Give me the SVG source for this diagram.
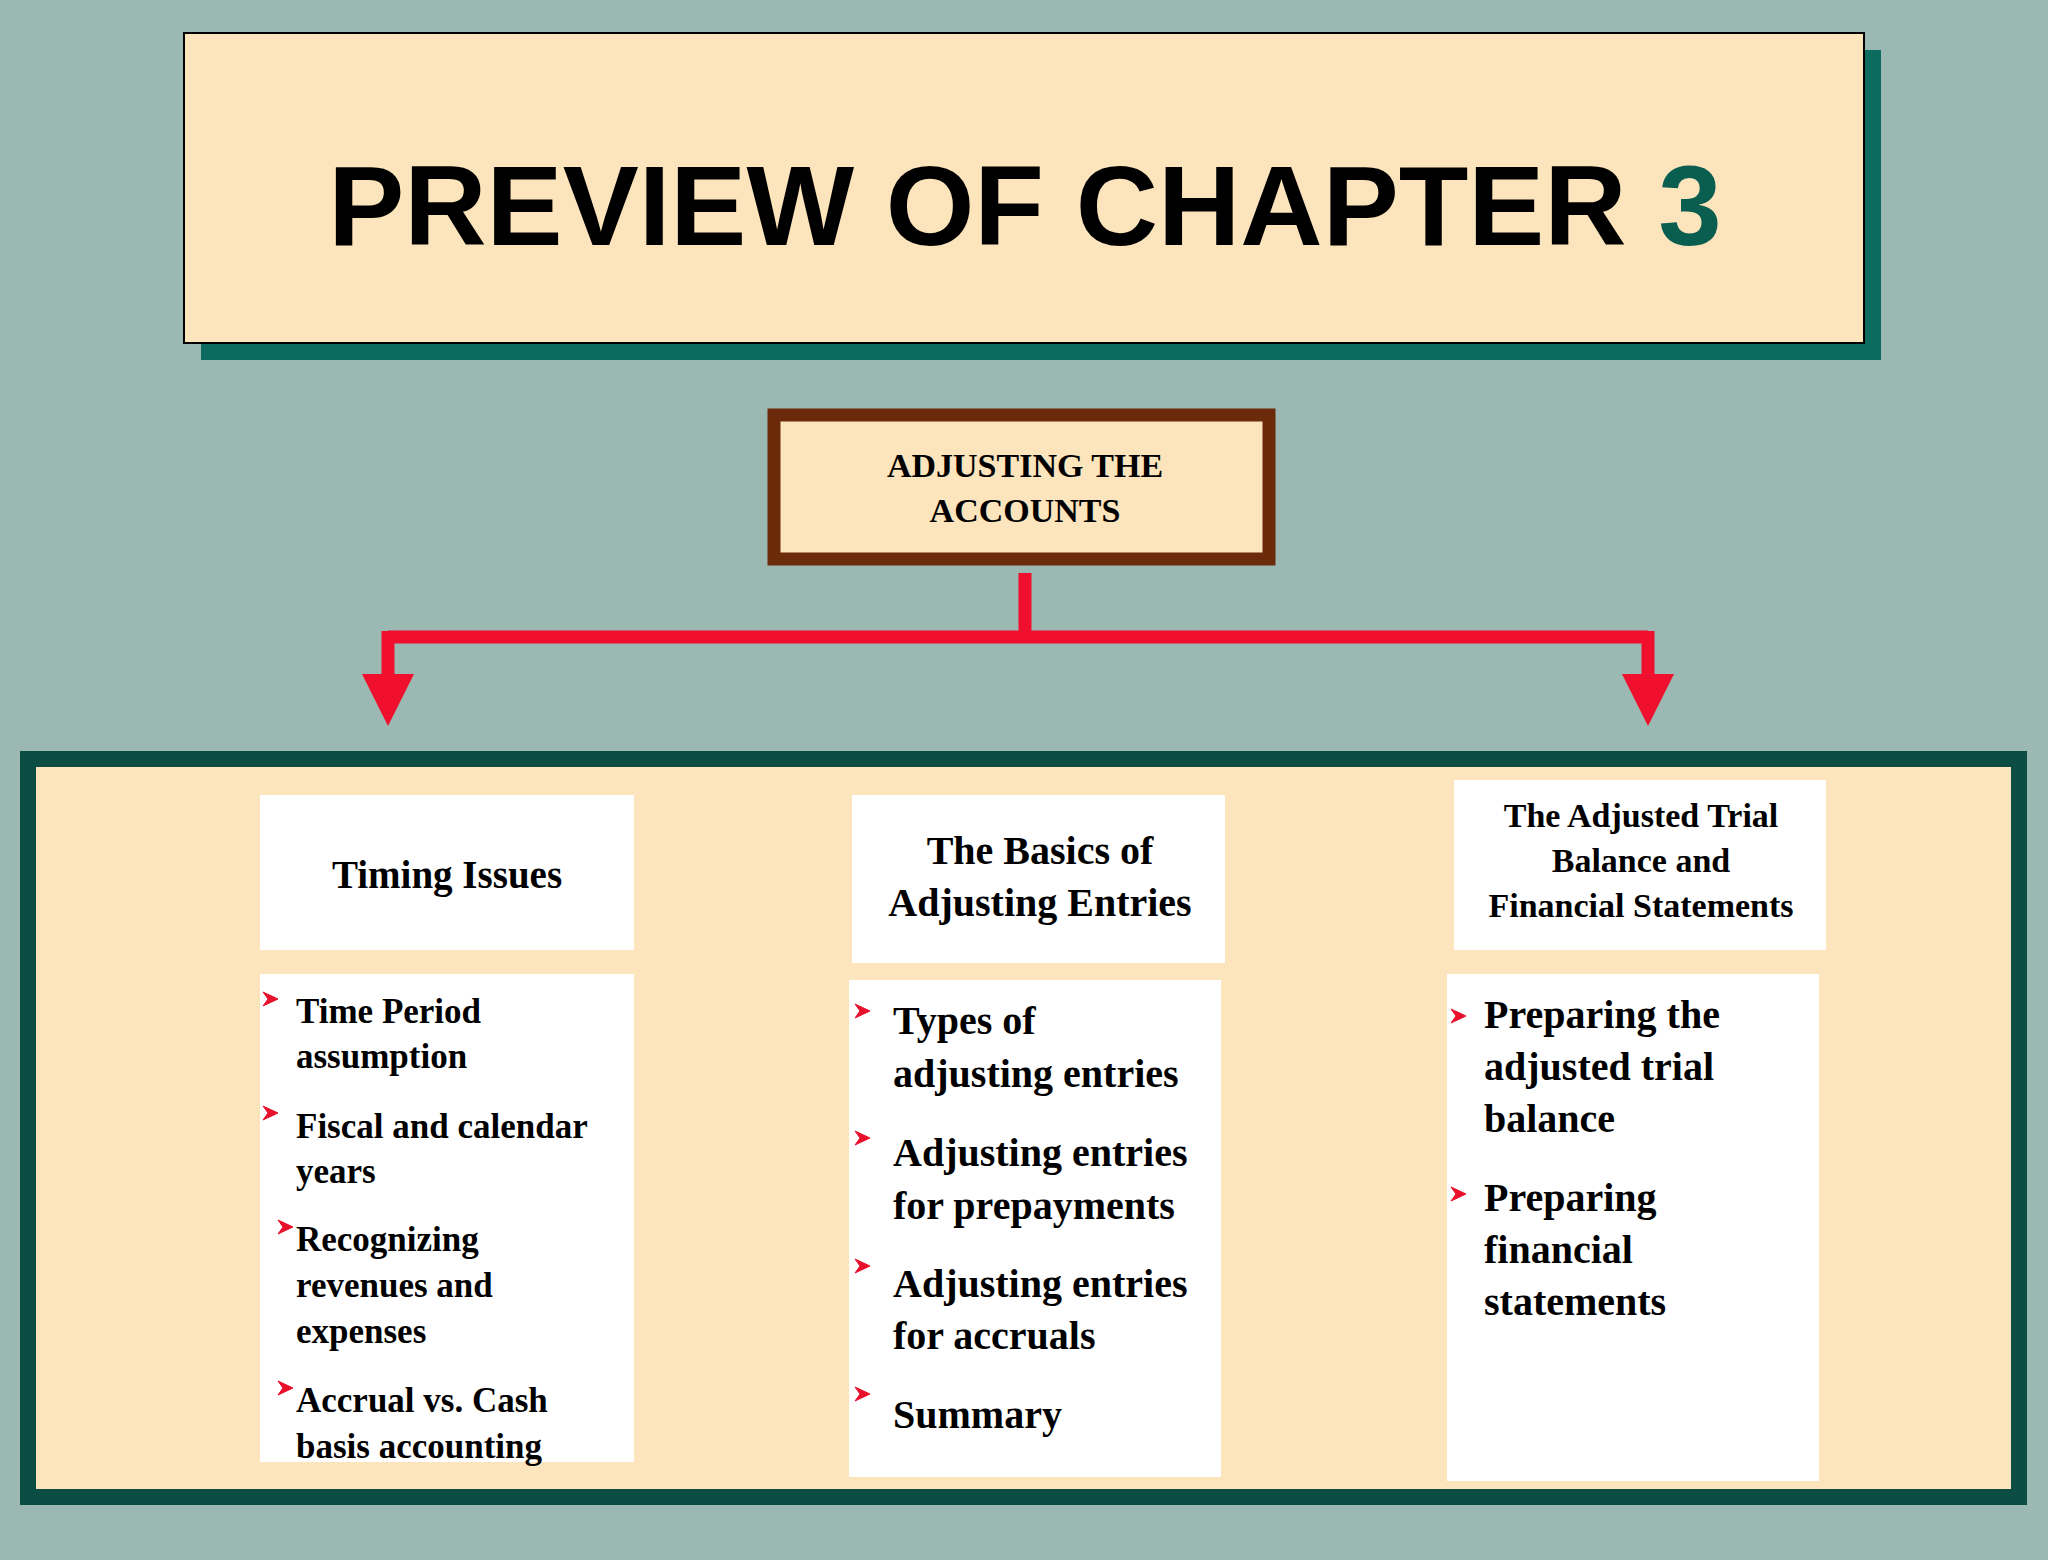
<svg xmlns="http://www.w3.org/2000/svg" xmlns:xlink="http://www.w3.org/1999/xlink" width="2048" height="1560" viewBox="0 0 2048 1560">
<style>
.s{font-family:"Liberation Serif",serif;font-weight:bold;fill:#000}
.w{fill:#fff}
</style>
<defs>
<path id="b" d="M0,-7 L15,0 L0,7 L5,0 Z" fill="#e8102a" stroke="#e8102a" stroke-width="1"/>
<marker id="ah" markerWidth="4" markerHeight="4" refX="2" refY="2" orient="auto" markerUnits="strokeWidth"><path d="M0,0 L4,2 L0,4 Z" fill="#f0102e"/></marker>
</defs>
<rect width="2048" height="1560" fill="#9bb8b2"/>
<g id="title">
<rect x="201" y="50" width="1680" height="310" fill="#0a6b5e"/>
<rect x="184" y="33" width="1680" height="310" fill="#fce4bc" stroke="#000" stroke-width="2"/>
<text x="1025" y="245" text-anchor="middle" style="font-family:'Liberation Sans',sans-serif;font-weight:bold;font-size:114px" fill="#000">PREVIEW OF CHAPTER <tspan fill="#0a5e50">3</tspan></text>
</g>
<g id="adjusting">
<rect x="774" y="415" width="495" height="144" fill="#fce4bc" stroke="#6b2a0a" stroke-width="13"/>
<text class="s" x="1025" y="477" text-anchor="middle" font-size="34">ADJUSTING THE</text>
<text class="s" x="1025" y="522" text-anchor="middle" font-size="34">ACCOUNTS</text>
</g>
<g id="connectors" stroke="#f0102e" stroke-width="13" fill="none">
<path d="M1025,573 V637 M388,637 H1648"/>
<path d="M388,631 V700" marker-end="url(#ah)"/>
<path d="M1648,631 V700" marker-end="url(#ah)"/>
</g>
<g id="panel">
<rect x="28" y="759" width="1991" height="738" fill="#fce4bc" stroke="#0b4d43" stroke-width="16"/>
</g>
<g id="timing">
<rect class="w" x="260" y="795" width="374" height="155"/>
<text class="s" x="447" y="888" text-anchor="middle" font-size="39">Timing Issues</text>
<rect class="w" x="260" y="974" width="374" height="488"/>
<g class="s" font-size="35">
<text x="296" y="1023">Time Period</text><text x="296" y="1068">assumption</text>
<text x="296" y="1138">Fiscal and calendar</text><text x="296" y="1183">years</text>
<text x="296" y="1251">Recognizing</text><text x="296" y="1297">revenues and</text><text x="296" y="1343">expenses</text>
<text x="296" y="1412">Accrual vs. Cash</text><text x="296" y="1458">basis accounting</text>
</g>
<use xlink:href="#b" x="263" y="999"/><use xlink:href="#b" x="263" y="1113"/><use xlink:href="#b" x="278" y="1227"/><use xlink:href="#b" x="278" y="1388"/>
</g>
<g id="basics">
<rect class="w" x="852" y="795" width="373" height="168"/>
<text class="s" x="1040" y="864" text-anchor="middle" font-size="40">The Basics of</text>
<text class="s" x="1040" y="916" text-anchor="middle" font-size="40">Adjusting Entries</text>
<rect class="w" x="849" y="980" width="372" height="497"/>
<g class="s" font-size="40">
<text x="893" y="1034">Types of</text><text x="893" y="1087">adjusting entries</text>
<text x="893" y="1166">Adjusting entries</text><text x="893" y="1219">for prepayments</text>
<text x="893" y="1297">Adjusting entries</text><text x="893" y="1349">for accruals</text>
<text x="893" y="1428">Summary</text>
</g>
<use xlink:href="#b" x="855" y="1011"/><use xlink:href="#b" x="855" y="1138"/><use xlink:href="#b" x="855" y="1266"/><use xlink:href="#b" x="855" y="1394"/>
</g>
<g id="adjusted">
<rect class="w" x="1454" y="780" width="372" height="170"/>
<text class="s" x="1641" y="827" text-anchor="middle" font-size="34">The Adjusted Trial</text>
<text class="s" x="1641" y="872" text-anchor="middle" font-size="34">Balance and</text>
<text class="s" x="1641" y="917" text-anchor="middle" font-size="34">Financial Statements</text>
<rect class="w" x="1447" y="974" width="372" height="507"/>
<g class="s" font-size="40">
<text x="1484" y="1028">Preparing the</text><text x="1484" y="1080">adjusted trial</text><text x="1484" y="1132">balance</text>
<text x="1484" y="1211">Preparing</text><text x="1484" y="1263">financial</text><text x="1484" y="1315">statements</text>
</g>
<use xlink:href="#b" x="1451" y="1016"/><use xlink:href="#b" x="1451" y="1194"/>
</g>
</svg>
